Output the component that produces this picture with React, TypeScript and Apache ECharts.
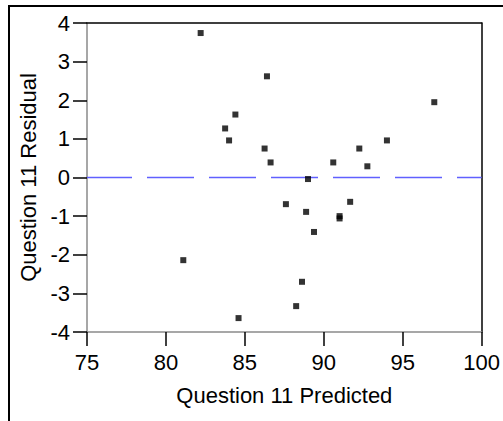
import React, { useEffect, useRef } from "react";
import * as echarts from "echarts";

// Predicted values and residuals for question 11
const predicted = [
  81.1, 82.2, 83.75, 84.0, 84.4, 84.6, 86.25, 86.4, 86.63, 87.6, 88.25, 88.62,
  88.88, 89.0, 89.38, 90.6, 91.0, 91.0, 91.67, 92.25, 92.76, 94.0, 97.0,
];
const residual = [
  -2.14, 3.74, 1.27, 0.96, 1.63, -3.64, 0.75, 2.62, 0.39, -0.69, -3.33, -2.7,
  -0.89, -0.04, -1.41, 0.39, -1.0, -1.06, -0.63, 0.75, 0.29, 0.96, 1.95,
];
const referenceLine = 0;

const xRange = { min: 75, max: 100, step: 5 };
const yRange = { min: -4, max: 4, step: 1 };

const FONT = 'Arial, "Liberation Sans", sans-serif';

export default function App() {
  const ref = useRef<HTMLDivElement>(null);

  useEffect(() => {
    if (!ref.current) return;
    const chart = echarts.init(ref.current, undefined, { renderer: "svg" });

    const labelStyle = { color: "#000", fontSize: 22, fontFamily: FONT };
    const grayLine = { onZero: false, lineStyle: { color: "#8a8a8a", width: 1.5 } };
    const blackLine = { show: true, onZero: false, lineStyle: { color: "#000", width: 1.5 } };
    const blackTick = { show: true, inside: false, length: 14, lineStyle: { color: "#000", width: 1.5 } };

    chart.setOption({
      animation: false,
      backgroundColor: "#fff",
      grid: { left: 87, right: 19, top: 23, bottom: 89, containLabel: false },
      graphic: [
        {
          type: "rect",
          shape: { x: 9, y: 6, width: 700, height: 700 },
          style: { fill: "none", stroke: "#000", lineWidth: 2 },
          silent: true,
        },
      ],
      xAxis: [
        {
          type: "value",
          position: "bottom",
          min: xRange.min,
          max: xRange.max,
          interval: xRange.step,
          name: "Question 11 Predicted",
          nameLocation: "middle",
          nameGap: 52,
          nameTextStyle: { ...labelStyle },
          axisLine: { show: true, ...grayLine },
          axisTick: blackTick,
          axisLabel: { ...labelStyle, margin: 19 },
          splitLine: { show: false },
        },
        {
          type: "value",
          position: "top",
          min: xRange.min,
          max: xRange.max,
          axisLine: blackLine,
          axisTick: { show: false },
          axisLabel: { show: false },
          splitLine: { show: false },
        },
      ],
      yAxis: [
        {
          type: "value",
          position: "left",
          min: yRange.min,
          max: yRange.max,
          interval: yRange.step,
          name: "Question 11 Residual",
          nameLocation: "middle",
          nameRotate: 90,
          nameGap: 33,
          nameTextStyle: { ...labelStyle },
          axisLine: { show: true, ...grayLine },
          axisTick: blackTick,
          axisLabel: { ...labelStyle, margin: 17 },
          splitLine: { show: false },
        },
        {
          type: "value",
          position: "right",
          min: yRange.min,
          max: yRange.max,
          axisLine: blackLine,
          axisTick: { show: false },
          axisLabel: { show: false },
          splitLine: { show: false },
        },
      ],
      series: [
        {
          // dashed reference line at zero residual
          type: "line",
          xAxisIndex: 0,
          yAxisIndex: 0,
          data: [
            [xRange.min, referenceLine],
            [xRange.max, referenceLine],
          ],
          symbol: "none",
          silent: true,
          lineStyle: { color: "#6060ff", width: 1.5, type: [47, 15], dashOffset: 2 },
          z: 2,
        },
        {
          type: "scatter",
          xAxisIndex: 0,
          yAxisIndex: 0,
          symbol: "rect",
          symbolSize: 6,
          itemStyle: { color: "#000" },
          data: predicted.map((p, i) => [p, residual[i]]),
          z: 3,
        },
      ],
    });

    return () => chart.dispose();
  }, []);

  return (
    <div
      ref={ref}
      style={{ position: "fixed", left: 0, top: 0, width: 503, height: 421, background: "#fff" }}
    />
  );
}
